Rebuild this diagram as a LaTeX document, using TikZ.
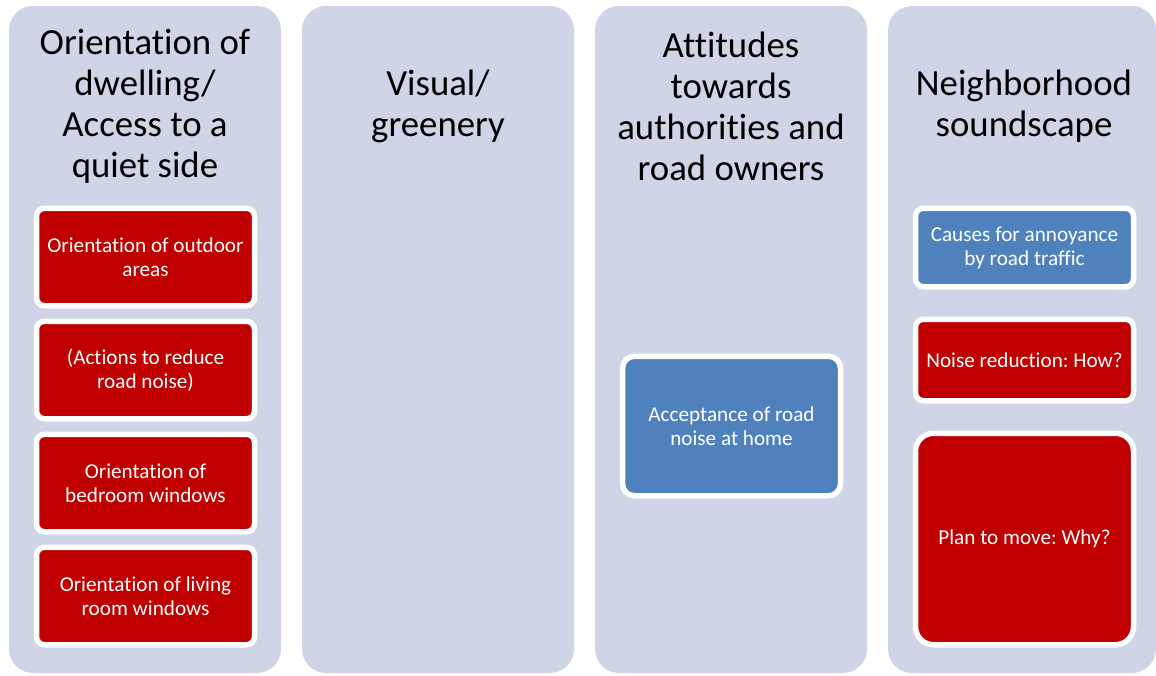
\documentclass[tikz,border=0pt]{standalone}
\usepackage{fontspec}
\setmainfont[Ligatures=NoCommon]{Carlito}
\frenchspacing
\usetikzlibrary{positioning}
\definecolor{colbg}{HTML}{CFD5E6}
\definecolor{hot}{HTML}{C00000}
\definecolor{cool}{HTML}{4F81BD}
\tikzset{
  col/.style={fill=colbg,rounded corners=12pt,minimum width=136pt,minimum height=333.5pt,inner sep=0pt},
  head/.style={align=center,font=\fontsize{18.4}{20.5}\selectfont,text=black},
  item/.style={draw=white,line width=2.75pt,rounded corners=4pt,fill=hot,text=white,align=center,inner sep=0pt,
    font=\fontsize{10.6}{12}\selectfont,minimum width=109pt},
  bitem/.style={item,fill=cool},
}

\begin{document}
\begin{tikzpicture}[x=0.5pt,y=-0.5pt,node distance=5pt]
\useasboundingbox (0,0) rectangle (1156,675);
% columns
\node[col] (c1) at (145,339.5) {};
\node[col] (c2) at (438,339.5) {};
\node[col] (c3) at (731,339.5) {};
\node[col,minimum width=134pt] (c4) at (1022,339.5) {};
% headings
\node[head] (h1) at (145,106) {Orientation of\\dwelling/\\Access to a\\quiet side};
\node[head] (h2) at (438,106) {Visual/\\greenery};
\node[head] (h3) at (731,106) {Attitudes\\towards\\authorities and\\road owners};
\node[head] (h4) at (1024,106) {Neighborhood\\soundscape};
% first column
\node[item,minimum height=48.75pt] (o1) at (145.5,257) {Orientation of outdoor\\areas};
\node[item,minimum height=48.75pt,below=of o1] (o2) {(Actions to reduce\\road noise)};
\node[item,minimum height=48.75pt,below=of o2] (o3) {Orientation of\\bedroom windows};
\node[item,minimum height=48.75pt,below=of o3] (o4) {Orientation of living\\room windows};
% third column
\node[bitem,minimum height=69.75pt,rounded corners=6pt] (a1) at (731.5,426) {Acceptance of road\\noise at home};
% fourth column
\node[bitem,minimum height=39.25pt] (n1) at (1024.5,247.5) {Causes for annoyance\\by road traffic};
\node[item,minimum height=40.75pt,below=13.5pt of n1] (n2) {Noise reduction: How?};
\node[item,minimum height=105.75pt,rounded corners=9pt,below=13.5pt of n2] (n3) {Plan to move: Why?};
\end{tikzpicture}
\end{document}
